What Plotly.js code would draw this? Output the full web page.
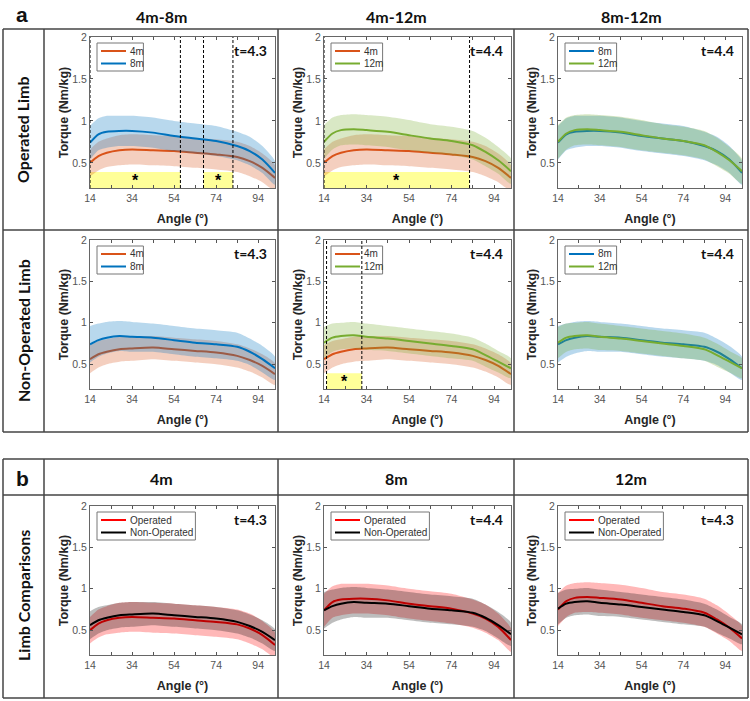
<!DOCTYPE html>
<html>
<head>
<meta charset="utf-8">
<script src="https://cdn.plot.ly/plotly-3.0.1.min.js"></script>
<style>
  html, body { margin: 0; padding: 0; background: #fff; }
  #plot { width: 750px; height: 701px; }
</style>
</head>
<body>
<div id="plot"></div>
<script>
const W = 750, H = 701;

// knee angle (deg) sample points
const angle = [14, 18, 22, 28, 34, 44, 54, 64, 74, 84, 90, 96, 102];

// operated limb, mean torque and SD (Nm/kg)
const op4Mean  = [0.50, 0.58, 0.62, 0.65, 0.66, 0.65, 0.64, 0.62, 0.60, 0.57, 0.52, 0.44, 0.32];
const op4Sd    = [0.16, 0.17, 0.17, 0.18, 0.18, 0.18, 0.18, 0.18, 0.18, 0.18, 0.18, 0.17, 0.15];
const op8Mean  = [0.74, 0.84, 0.87, 0.88, 0.88, 0.86, 0.82, 0.79, 0.76, 0.70, 0.64, 0.54, 0.38];
const op8Sd    = [0.20, 0.19, 0.19, 0.18, 0.18, 0.18, 0.18, 0.18, 0.18, 0.17, 0.17, 0.16, 0.14];
const op12Mean = [0.75, 0.85, 0.89, 0.90, 0.89, 0.87, 0.83, 0.79, 0.76, 0.71, 0.63, 0.53, 0.40];
const op12Sd   = [0.20, 0.19, 0.18, 0.18, 0.18, 0.18, 0.18, 0.17, 0.17, 0.17, 0.17, 0.16, 0.15];

// non-operated limb
const non4Mean  = [0.56, 0.62, 0.65, 0.68, 0.69, 0.70, 0.68, 0.66, 0.64, 0.60, 0.55, 0.48, 0.38];
const non4Sd    = [0.17, 0.16, 0.15, 0.15, 0.15, 0.14, 0.14, 0.14, 0.14, 0.14, 0.14, 0.14, 0.13];
const non8Mean  = [0.74, 0.79, 0.82, 0.84, 0.83, 0.82, 0.79, 0.76, 0.74, 0.71, 0.65, 0.56, 0.45];
const non8Sd    = [0.22, 0.20, 0.19, 0.18, 0.18, 0.17, 0.17, 0.17, 0.17, 0.17, 0.16, 0.16, 0.14];
const non12Mean = [0.76, 0.82, 0.84, 0.85, 0.83, 0.81, 0.78, 0.75, 0.72, 0.68, 0.61, 0.53, 0.45];
const non12Sd   = [0.19, 0.17, 0.16, 0.16, 0.16, 0.15, 0.15, 0.15, 0.15, 0.14, 0.14, 0.13, 0.12];

// significant angle ranges (SPM clusters)
const sigOp4v8   = [[14, 57], [68, 82]];
const sigOp4v12  = [[14, 82.5]];
const sigNon4v12 = [[15.2, 31.8]];
const sigTop = 0.39;

const colTitlesA = ["4m-8m", "4m-12m", "8m-12m"];
const colTitlesB = ["4m", "8m", "12m"];
const rowLabels = ["Operated Limb", "Non-Operated Limb", "Limb Comparisons"];
const tLabels = [["t=4.3", "t=4.4", "t=4.4"], ["t=4.3", "t=4.4", "t=4.4"], ["t=4.3", "t=4.4", "t=4.3"]];

const xTicks = [14, 24, 34, 44, 54, 64, 74, 84, 94];
const xTickText = ["14", "", "34", "", "54", "", "74", "", "94"];
const yTicks = [0.5, 1, 1.5, 2];

// panel boxes in pixels
const colPx = [[90, 275], [324, 511], [558, 742]];
const rowPx = [[37, 188], [240, 389], [506, 655]];

const C4 = "#D95319", C8 = "#0072BD", C12 = "#77AC30";
function rgba(hex, a) {
  const n = parseInt(hex.slice(1), 16);
  return `rgba(${(n >> 16) & 255},${(n >> 8) & 255},${n & 255},${a})`;
}
const fx = px => px / W;
const fy = py => 1 - py / H;

const S = {
  op4:   { name: "4m",  mean: op4Mean,  sd: op4Sd,  color: C4 },
  op8:   { name: "8m",  mean: op8Mean,  sd: op8Sd,  color: C8 },
  op12:  { name: "12m", mean: op12Mean, sd: op12Sd, color: C12 },
  non4:  { name: "4m",  mean: non4Mean, sd: non4Sd, color: C4 },
  non8:  { name: "8m",  mean: non8Mean, sd: non8Sd, color: C8 },
  non12: { name: "12m", mean: non12Mean, sd: non12Sd, color: C12 },
};
function limb(s, name, color) { return Object.assign({}, s, { name, color }); }

const panels = [
  { r: 0, c: 0, s: [S.op4, S.op8], sig: sigOp4v8 },
  { r: 0, c: 1, s: [S.op4, S.op12], sig: sigOp4v12 },
  { r: 0, c: 2, s: [S.op8, S.op12], sig: [] },
  { r: 1, c: 0, s: [S.non4, S.non8], sig: [] },
  { r: 1, c: 1, s: [S.non4, S.non12], sig: sigNon4v12 },
  { r: 1, c: 2, s: [S.non8, S.non12], sig: [] },
  { r: 2, c: 0, s: [limb(S.op4, "Operated", "#FF0000"), limb(S.non4, "Non-Operated", "#000000")], sig: [] },
  { r: 2, c: 1, s: [limb(S.op8, "Operated", "#FF0000"), limb(S.non8, "Non-Operated", "#000000")], sig: [] },
  { r: 2, c: 2, s: [limb(S.op12, "Operated", "#FF0000"), limb(S.non12, "Non-Operated", "#000000")], sig: [] },
];

const traces = [];
const shapes = [];
const annotations = [];
const layout = {
  width: W, height: H,
  margin: { l: 0, r: 0, t: 0, b: 0 },
  paper_bgcolor: "#fff", plot_bgcolor: "#fff",
  font: { family: "Liberation Sans, Arial, sans-serif", color: "#262626" },
  showlegend: false,
};

const tickFont = { family: "Liberation Sans, Arial, sans-serif", size: 10.5, color: "#555" };
const titleFont = { family: "Liberation Sans, Arial, sans-serif", size: 12.5, color: "#262626", weight: "bold" };
const hdrFont = { family: "Lato, Open Sans, sans-serif", size: 16, color: "#111", weight: "bold" };
const legFont = { family: "Liberation Sans, Arial, sans-serif", size: 10, color: "#333" };

function paperText(x, y, text, font, extra) {
  annotations.push(Object.assign({ xref: "paper", yref: "paper", x: fx(x), y: fy(y), text, showarrow: false,
    xanchor: "center", yanchor: "middle", font }, extra || {}));
}

panels.forEach((p, i) => {
  const k = i === 0 ? "" : String(i + 1);
  const xa = "x" + k, ya = "y" + k;
  const [x0, x1] = colPx[p.c], [y0, y1] = rowPx[p.r];

  layout["xaxis" + k] = {
    domain: [fx(x0), fx(x1)], anchor: ya, range: [14, 102],
    tickvals: xTicks, ticktext: xTickText, ticks: "inside", ticklen: 3,
    tickcolor: "#555", showline: true, linecolor: "#666", linewidth: 1, mirror: "ticks",
    showgrid: false, zeroline: false, tickfont: tickFont,
    title: { text: "Angle (°)", font: titleFont, standoff: 11 },
  };
  layout["yaxis" + k] = {
    domain: [fy(y1), fy(y0)], anchor: xa, range: [0.2, 2],
    tickvals: yTicks, ticks: "inside", ticklen: 3,
    tickcolor: "#555", showline: true, linecolor: "#666", linewidth: 1, mirror: "ticks",
    showgrid: false, zeroline: false, tickfont: tickFont,
    title: { text: "Torque (Nm/kg)", font: titleFont, standoff: 0 },
  };

  // shaded SD bands + mean lines
  p.s.forEach(s => {
    const up = s.mean.map((m, j) => m + s.sd[j]);
    const lo = s.mean.map((m, j) => m - s.sd[j]);
    traces.push({
      type: "scatter", mode: "lines", xaxis: xa, yaxis: ya,
      x: angle.concat(angle.slice().reverse()),
      y: up.concat(lo.slice().reverse()),
      fill: "toself", fillcolor: rgba(s.color, s.color === "#000000" ? 0.26 : 0.28),
      line: { width: 0, shape: "spline", smoothing: 0.6 },
      hoverinfo: "skip",
    });
    traces.push({
      type: "scatter", mode: "lines", xaxis: xa, yaxis: ya,
      x: angle, y: s.mean, name: s.name,
      line: { color: s.color, width: 2, shape: "spline", smoothing: 0.8 },
    });
  });

  // MATLAB-style compact legend box
  const maxLen = Math.max(...p.s.map(s => s.name.length));
  const lx = x0 + 7, ly = y0 + 6, lw = 36 + maxLen * 5.2, lh = 28;
  shapes.push({ type: "rect", xref: "paper", yref: "paper", x0: fx(lx), x1: fx(lx + lw), y0: fy(ly + lh), y1: fy(ly),
    fillcolor: "#fff", line: { color: "#777", width: 1 } });
  p.s.forEach((s, j) => {
    const yy = ly + 8 + j * 12.5;
    shapes.push({ type: "line", xref: "paper", yref: "paper", x0: fx(lx + 4), x1: fx(lx + 29), y0: fy(yy), y1: fy(yy),
      line: { color: s.color, width: 2 } });
    paperText(lx + 31, yy, s.name, legFont, { xanchor: "left" });
  });

  // significance clusters
  p.sig.forEach(([a, b]) => {
    shapes.push({ type: "rect", xref: xa, yref: ya, x0: a, x1: b, y0: 0.2, y1: sigTop,
      fillcolor: "#FFFF99", line: { width: 0 }, layer: "below" });
    [a, b].forEach(v => shapes.push({ type: "line", xref: xa, yref: ya, x0: v, x1: v, y0: 0.2, y1: 2,
      line: { color: "#000", width: 1, dash: "3px,2px" } }));
    annotations.push({ xref: xa, yref: ya, x: (a + b) / 2, y: 0.29, text: "<b>*</b>", showarrow: false,
      font: { family: "Liberation Sans, Arial, sans-serif", size: 16, color: "#000" } });
  });

  paperText(x1 - 6, y0 + 3, "<b>" + tLabels[p.r][p.c] + "</b>",
    { family: "Lato, Open Sans, sans-serif", size: 14, color: "#111" }, { xanchor: "right", yanchor: "top" });
});

// table frame
const frameLine = { color: "#444", width: 1.5 };
function hline(y, xa, xb) { shapes.push({ type: "line", xref: "paper", yref: "paper", x0: fx(xa), x1: fx(xb), y0: fy(y), y1: fy(y), line: frameLine }); }
function vline(x, ya, yb) { shapes.push({ type: "line", xref: "paper", yref: "paper", x0: fx(x), x1: fx(x), y0: fy(ya), y1: fy(yb), line: frameLine }); }
[29, 230, 432, 459, 495, 698].forEach(y => hline(y, 3, 748));
[3, 44, 278, 514, 748].forEach(x => { vline(x, 29, 432); vline(x, 459, 698); });

const colCenters = [161, 396, 631];
colTitlesA.forEach((t, i) => paperText(colCenters[i], 16, t, hdrFont));
colTitlesB.forEach((t, i) => paperText(colCenters[i], 478, t, hdrFont));
const letterFont = { family: "Liberation Sans, Arial, sans-serif", size: 21, color: "#111", weight: "bold" };
paperText(22, 15, "a", letterFont);
paperText(22, 478, "b", letterFont);
const rowCenters = [130, 331, 596];
rowLabels.forEach((t, i) => paperText(23, rowCenters[i], t, hdrFont, { textangle: -90 }));

layout.shapes = shapes;
layout.annotations = annotations;

Plotly.newPlot("plot", traces, layout, { staticPlot: true, displayModeBar: false });
</script>
</body>
</html>
